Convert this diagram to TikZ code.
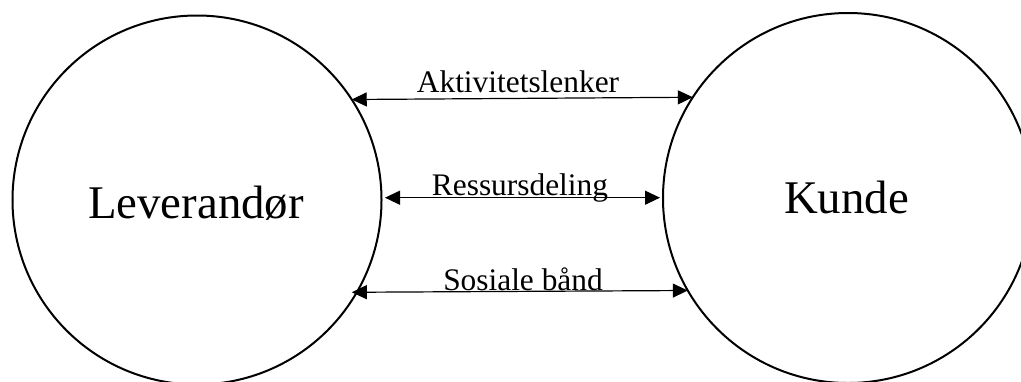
\documentclass[tikz,border=0pt]{standalone}
\usepackage{fontspec}
\setmainfont{Liberation Serif}
\usetikzlibrary{arrows.meta}
\begin{document}
\begin{tikzpicture}[x=1bp,y=-1bp,
  party/.style={circle,draw,line width=2bp,inner sep=0pt,outer sep=0pt,
    font=\fontsize{47}{54}\selectfont},
  link/.style={{Triangle[length=15bp,width=14bp]}-{Triangle[length=15bp,width=14bp]},line width=1.2bp},
  lbl/.style={anchor=base,inner sep=0pt,font=\fontsize{31.5}{36}\selectfont}]
\useasboundingbox (0,0) rectangle (1021,381);
\clip (0,0) rectangle (1021,381);
\node[party,minimum size=369bp] (L) at (197,200) {};
\node[party,minimum size=370bp] (R) at (848,198) {};
\node[anchor=base,inner sep=0pt,font=\fontsize{47}{54}\selectfont] (Lt) at (196,218) {Leverandør};
\node[anchor=base,inner sep=0pt,font=\fontsize{47}{54}\selectfont] (Rt) at (846.5,213) {Kunde};
\draw[link] (L.33.56) -- (R.147.28);
\draw[link] ([shift={(3.5,-2.3)}]L.east) -- ([shift={(-3,-0.3)}]R.west);
\draw[link,shorten <=-5bp] (L.-30.09) -- (R.210.72);
\node[lbl] (a) at (518,92) {Aktivitetslenker};
\node[lbl] (b) at (520,195) {Ressursdeling};
\node[lbl] (c) at (523,290) {Sosiale bånd};
\end{tikzpicture}
\end{document}
